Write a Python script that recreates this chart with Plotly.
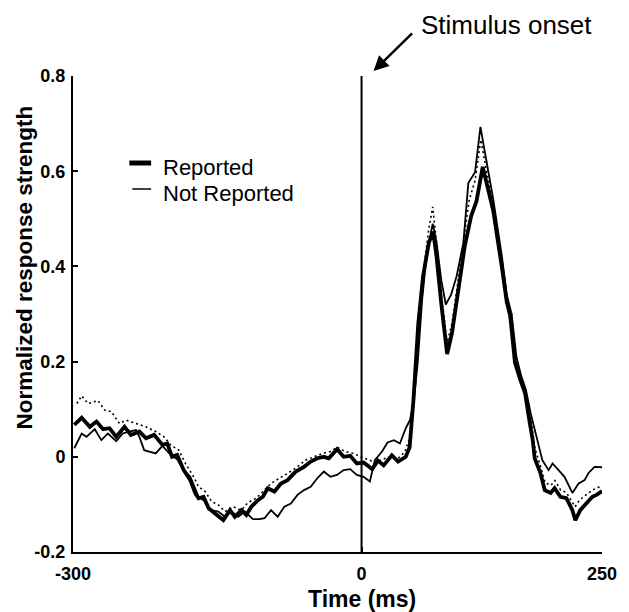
import plotly.graph_objects as go

# ---- data ----
t_reported = [-298.7, -291, -282.5, -275.6, -268.8, -262, -255, -246.5, -239.7, -231, -224, -215.7,
              -207, -202, -197, -191.7, -184.9, -178, -172.8, -169.4, -164.3, -159, -152.3, -143.7,
              -136.8, -131.7, -124.9, -119.8, -114.6, -107.7, -102.6, -97.5, -90.6, -83.8, -77, -68.4,
              -59.8, -52.9, -46, -39.2, -34, -25.5, -18.6, -11.8, -4.9, 2, 6, 11, 17, 23, 31.5, 38,
              46, 50, 54, 59, 64, 70, 74.5, 78, 83, 89, 94, 99, 104, 107.5, 114, 119.5, 126, 131,
              137, 146, 151, 154.5, 159.5, 165, 170, 175, 178, 180, 186, 190.5, 196.6, 200.7, 206.8,
              213, 219.2, 222.3, 227.4, 233.6, 240, 244.3, 250]
v_reported = [0.067, 0.082, 0.063, 0.074, 0.058, 0.060, 0.042, 0.063, 0.046, 0.053, 0.039, 0.046,
              0.025, 0.028, 0.0, 0.004, -0.028, -0.049, -0.077, -0.087, -0.084, -0.108, -0.119, -0.133,
              -0.112, -0.126, -0.112, -0.122, -0.105, -0.091, -0.084, -0.066, -0.073, -0.056, -0.049, -0.031,
              -0.021, -0.010, -0.003, 0.0, -0.003, 0.016, 0.0, 0.002, -0.014, -0.012, -0.018, -0.026, -0.008, -0.018, 0.003, -0.010,
              0.0, 0.02, 0.12, 0.28, 0.38, 0.45, 0.473, 0.42, 0.32, 0.216, 0.26, 0.325, 0.39, 0.445, 0.506, 0.537, 0.609, 0.57,
              0.516, 0.397, 0.325, 0.297, 0.198, 0.162, 0.134, 0.07, 0.035, -0.003, -0.034, -0.070, -0.076, -0.066, -0.084,
              -0.087, -0.112, -0.133, -0.112, -0.098, -0.084, -0.080, -0.072]

t_not_reported = [-298.7, -291, -286, -277.4, -270.5, -263.7, -255, -248.3, -241.4, -234.5, -231, -226,
                  -220.8, -214, -207, -198.5, -191.7, -184.9, -178, -172.8, -169.4, -162.6, -157.4, -148.9,
                  -142, -135.2, -128.3, -121.4, -112.9, -106, -100.9, -94.1, -87.2, -80.3, -73.5, -66.6,
                  -59.8, -52.9, -46, -39.2, -32.4, -25.5, -18.6, -11.8, -4.9, 2, 8.7, 13.8, 21.3, 27, 33.7,
                  39.9, 46, 50.3, 54.4, 58.5, 63, 68, 74, 78, 83, 87.6, 93, 98.9, 105.9, 111, 118, 123.6,
                  130, 137, 146, 151, 156, 161, 166, 171, 176, 182, 188, 194.5, 198.6, 204.8, 211, 219.2,
                  225.7, 231.9, 236, 242.2, 250]
v_not_reported = [0.018, 0.049, 0.042, 0.058, 0.035, 0.049, 0.033, 0.049, 0.053, 0.056, 0.042, 0.014,
                  0.011, 0.007, 0.023, 0.004, -0.005, -0.028, -0.042, -0.066, -0.084, -0.094, -0.112, -0.115,
                  -0.126, -0.115, -0.126, -0.115, -0.131, -0.131, -0.129, -0.112, -0.126, -0.105, -0.098, -0.080,
                  -0.070, -0.063, -0.045, -0.031, -0.042, -0.038, -0.028, -0.026, -0.038, -0.042, -0.052, -0.007, 0.011, 0.03, 0.035,
                  0.028, 0.06, 0.077, 0.119, 0.2, 0.33, 0.43, 0.49, 0.45, 0.37, 0.32, 0.34, 0.38, 0.45, 0.575, 0.598, 0.693,
                  0.62, 0.54, 0.42, 0.34, 0.30, 0.21, 0.17, 0.14, 0.09, 0.039, -0.007, -0.028, -0.014, -0.028, -0.042, -0.076,
                  -0.056, -0.049, -0.034, -0.021, -0.022]

t_dotted = [-296, -291, -284.3, -274, -267, -260.2, -251.7, -244.8, -234.5, -224.2, -214, -205.4, -198.5,
            -190, -183.1, -174.6, -169.4, -162.6, -155.8, -148.9, -142, -133.5, -124.9, -118, -109.5, -100.9,
            -94.1, -85.4, -76.9, -66.6, -58.1, -49.5, -40.9, -32.4, -25.5, -17, -8.3, 0.2, 8.7, 15, 22, 30,
            38, 45, 50, 55, 60, 65, 70, 74, 78, 83, 89, 94, 99, 106, 112, 118, 124, 130, 137, 146, 151, 156,
            161, 166, 171, 176, 180, 186, 191, 197, 201, 207, 213, 219, 222, 227, 234, 240, 245, 250]
v_dotted = [0.112, 0.128, 0.112, 0.118, 0.098, 0.095, 0.070, 0.077, 0.070, 0.063, 0.053, 0.042, 0.025,
            0.014, -0.014, -0.042, -0.063, -0.073, -0.094, -0.101, -0.115, -0.105, -0.112, -0.096, -0.087, -0.070,
            -0.056, -0.045, -0.035, -0.021, -0.007, 0.0, 0.007, 0.011, 0.020, 0.011, 0.007, -0.001, -0.007, -0.012, -0.005, 0.0,
            -0.003, 0.01, 0.04, 0.13, 0.28, 0.40, 0.48, 0.525, 0.45, 0.34, 0.24, 0.28, 0.35, 0.45, 0.54, 0.58, 0.666, 0.60, 0.53, 0.41, 0.33, 0.30,
            0.205, 0.165, 0.135, 0.08, 0.02, -0.02, -0.055, -0.06, -0.05, -0.07, -0.075, -0.095, -0.105, -0.09, -0.08, -0.07, -0.065, -0.062]

x_ticks = [-300, 0, 250]
x_ticktext = ["-300", "0", "250"]
y_ticks = [-0.2, 0, 0.2, 0.4, 0.6, 0.8]
y_ticktext = ["-0.2", "0", "0.2", "0.4", "0.6", "0.8"]
onset_time = 0

FONT = "Liberation Sans, Arial, sans-serif"
BLACK = "#000000"

fig = go.Figure()
fig.add_trace(go.Scatter(x=t_dotted, y=v_dotted, mode="lines", showlegend=False,
                         line=dict(color=BLACK, width=1.6, dash="2px,3px")))
fig.add_trace(go.Scatter(x=t_not_reported, y=v_not_reported, mode="lines", name="Not Reported",
                         showlegend=False, line=dict(color=BLACK, width=1.8)))
fig.add_trace(go.Scatter(x=t_reported, y=v_reported, mode="lines", name="Reported",
                         showlegend=False, line=dict(color=BLACK, width=3.8)))

# stimulus onset line
fig.add_shape(type="line", xref="x", yref="y", x0=onset_time, x1=onset_time, y0=-0.2, y1=0.8,
              line=dict(color=BLACK, width=2))

# legend (custom, to match the short sample bars)
fig.add_shape(type="line", xref="paper", yref="paper", x0=0.1065, x1=0.1477, y0=0.8172, y1=0.8172,
              line=dict(color=BLACK, width=5))
fig.add_shape(type="line", xref="paper", yref="paper", x0=0.1121, x1=0.1477, y0=0.7626, y1=0.7626,
              line=dict(color=BLACK, width=1.5))
fig.add_annotation(xref="paper", yref="paper", x=0.1682, y=0.8088, text="Reported", showarrow=False,
                   xanchor="left", yanchor="middle", borderpad=0,
                   font=dict(family=FONT, size=22, color=BLACK))
fig.add_annotation(xref="paper", yref="paper", x=0.1682, y=0.7542, text="Not Reported", showarrow=False,
                   xanchor="left", yanchor="middle", borderpad=0,
                   font=dict(family=FONT, size=22, color=BLACK))

# stimulus onset label + arrow
fig.add_annotation(xref="paper", yref="paper", x=0.8187, y=1.107, text="Stimulus onset", showarrow=False,
                   xanchor="center", yanchor="middle", font=dict(family=FONT, size=26, color=BLACK))
fig.add_annotation(xref="paper", yref="paper", x=0.5682, y=1.0105, text="", showarrow=True, ax=40, ay=-39,
                   arrowhead=2, arrowsize=1.2, arrowwidth=2.5, arrowcolor=BLACK, standoff=0)

# axis titles
fig.add_annotation(xref="paper", yref="paper", x=-0.0935, y=0.5966, text="Normalized response strength",
                   showarrow=False, textangle=-90, xanchor="center", yanchor="middle",
                   font=dict(family=FONT, size=22.5, color=BLACK, weight="bold"))
fig.add_annotation(xref="paper", yref="paper", x=0.5458, y=-0.0985, text="Time (ms)",
                   showarrow=False, xanchor="center", yanchor="middle",
                   font=dict(family=FONT, size=23, color=BLACK, weight="bold"))

fig.update_xaxes(range=[-300, 250], tickvals=x_ticks, ticktext=x_ticktext, showgrid=False, zeroline=False,
                 showline=True, linecolor=BLACK, linewidth=2, ticks="inside", ticklen=5, tickwidth=1.5,
                 tickcolor=BLACK, ticklabelstandoff=4,
                 tickfont=dict(family=FONT, size=18, color=BLACK, weight="bold"))
fig.update_yaxes(range=[-0.2, 0.8], tickvals=y_ticks, ticktext=y_ticktext, showgrid=False, zeroline=False,
                 showline=True, linecolor=BLACK, linewidth=2, ticks="inside", ticklen=5, tickwidth=1.5,
                 tickcolor=BLACK, ticklabelstandoff=2,
                 tickfont=dict(family=FONT, size=18, color=BLACK, weight="bold"))

fig.update_layout(width=629, height=612, margin=dict(l=73, r=21, t=76, b=60),
                  plot_bgcolor="white", paper_bgcolor="white", showlegend=False)

fig.write_html("out.html")
